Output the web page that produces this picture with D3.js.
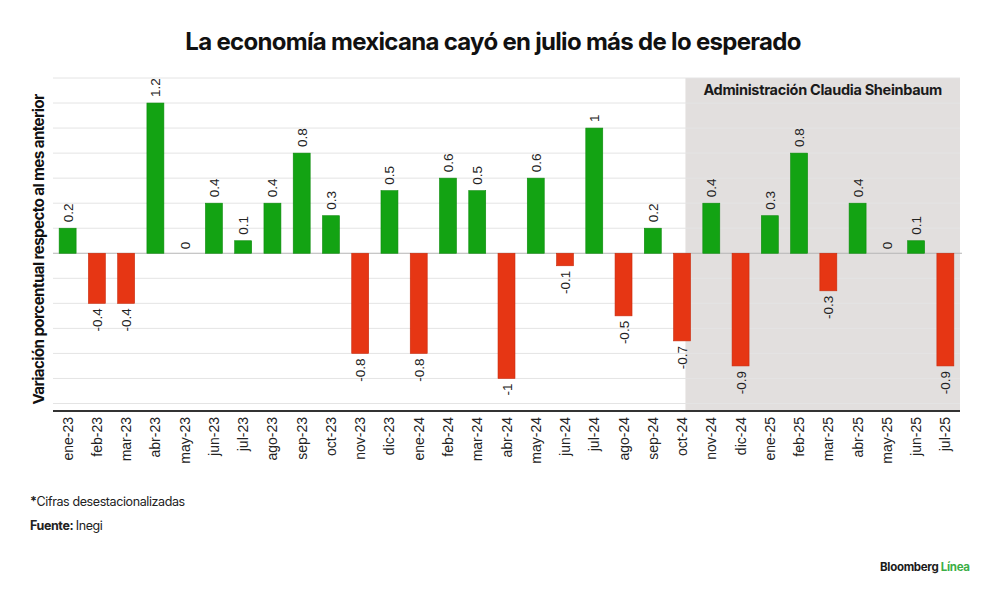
<!DOCTYPE html>
<html>
<head>
<meta charset="utf-8">
<script src="https://cdn.jsdelivr.net/npm/d3@7"></script>
<style>
  body { margin: 0; background: #fff; }
  svg { display: block; }
</style>
</head>
<body>
<svg id="chart" width="1000" height="595"></svg>
<script>
// monthly change, % vs previous month (seasonally adjusted)
const months = ["ene-23","feb-23","mar-23","abr-23","may-23","jun-23","jul-23","ago-23","sep-23","oct-23","nov-23","dic-23",
  "ene-24","feb-24","mar-24","abr-24","may-24","jun-24","jul-24","ago-24","sep-24","oct-24","nov-24","dic-24",
  "ene-25","feb-25","mar-25","abr-25","may-25","jun-25","jul-25"]
const values = [0.2,-0.4,-0.4,1.2,0,0.4,0.1,0.4,0.8,0.3,-0.8,0.5,
  -0.8,0.6,0.5,-1,0.6,-0.1,1,-0.5,0.2,-0.7,0.4,-0.9,
  0.3,0.8,-0.3,0.4,0,0.1,-0.9]
const gridValues = [1.4,1.2,1.0,0.8,0.6,0.4,0.2,-0.2,-0.4,-0.6,-0.8,-1.0,-1.2]
const adminStart = "oct-24"

const data = months.map((m, i) => ({month: m, value: values[i]}))

const svg = d3.select("#chart")
const W = 1000
const mLeft = 53, mRight = 960, mTop = 78, mBottom = 411

const green = "#13a313", red = "#e63614"
const labelFont = "'Liberation Sans', Arial, sans-serif"
const headFont = "Inter, 'Noto Sans', sans-serif"

const x = d3.scaleBand()
	.domain(months)
	.range([mLeft, mRight])
	.paddingInner(0.42)
	.paddingOuter(0.21)

const y = d3.scaleLinear()
	.domain([-1.26, 1.4])
	.range([mBottom, mTop])

// shade for Sheinbaum administration
let shadeX = x(adminStart) + x.bandwidth()*0.7
svg.append("rect")
	.attr("x", shadeX)
	.attr("y", y(1.4))
	.attr("width", mRight - shadeX)
	.attr("height", mBottom - y(1.4))
	.attr("fill", "#e2dfde")

// grid lines
svg.append("g")
	.selectAll("line")
	.data(gridValues)
	.join("line")
	  .attr("x1", mLeft)
	  .attr("x2", mRight)
	  .attr("y1", d => y(d))
	  .attr("y2", d => y(d))
	  .attr("stroke", "#e4e4e4")
	  .attr("stroke-width", 1)

// zero line
svg.append("line")
	.attr("x1", mLeft).attr("x2", mRight + 2)
	.attr("y1", y(0)).attr("y2", y(0))
	.attr("stroke", "#b5b5b5")
	.attr("stroke-width", 1)

svg.append("text")
	.attr("x", (shadeX + mRight)/2)
	.attr("y", 95)
	.attr("text-anchor", "middle")
	.attr("font-family", headFont)
	.attr("font-weight", 700)
	.attr("font-size", 14.5)
	.attr("letter-spacing", -0.3)
	.attr("fill", "#1a1a1a")
	.text("Administración Claudia Sheinbaum")

// bars
svg.append("g")
	.selectAll("rect")
	.data(data.filter(d => d.value !== 0))
	.join("rect")
	  .attr("x", d => x(d.month))
	  .attr("width", x.bandwidth())
	  .attr("y", d => y(Math.max(0, d.value)))
	  .attr("height", d => Math.abs(y(d.value) - y(0)))
	  .attr("fill", d => d.value > 0 ? green : red)
	  .attr("stroke", d => d.value > 0 ? "#0c8a0c" : "#c92a0c")
	  .attr("stroke-width", 0.6)

// value labels, rotated
svg.append("g")
	.selectAll("text")
	.data(data)
	.join("text")
	  .attr("transform", d => {
		let cx = x(d.month) + x.bandwidth()/2 + 5
		let cy = d.value < 0 ? y(d.value) + 5 : y(d.value) - (d.value === 0 ? 4 : 6)
		return `translate(${cx},${cy}) rotate(-90)`
	  })
	  .attr("text-anchor", d => d.value < 0 ? "end" : "start")
	  .attr("font-family", labelFont)
	  .attr("font-size", 13.5)
	  .attr("fill", "#222")
	  .text(d => d.value)

// x axis
const xAxis = svg.append("g")
	.attr("transform", `translate(0,${mBottom})`)
	.call(d3.axisBottom(x).tickSize(0).tickPadding(0))
xAxis.select(".domain")
	.attr("d", `M${mLeft},0H${mRight}`)
	.attr("stroke", "#333")
	.attr("stroke-width", 2)
xAxis.selectAll(".tick text")
	.attr("transform", "translate(5,6) rotate(-90)")
	.attr("text-anchor", "end")
	.attr("dy", 0)
	.attr("y", 0)
	.attr("font-family", labelFont)
	.attr("font-size", 14)
	.attr("fill", "#222")

// title
svg.append("text")
	.attr("x", W/2 - 7)
	.attr("y", 50)
	.attr("text-anchor", "middle")
	.attr("font-family", headFont)
	.attr("font-weight", 700)
	.attr("font-size", 24)
	.attr("letter-spacing", -0.7)
	.attr("fill", "#111")
	.text("La economía mexicana cayó en julio más de lo esperado")

// y axis title
svg.append("text")
	.attr("transform", `translate(44,${(mTop + mBottom)/2 + 5}) rotate(-90)`)
	.attr("text-anchor", "middle")
	.attr("font-family", headFont)
	.attr("font-weight", 700)
	.attr("font-size", 15.2)
	.attr("letter-spacing", -0.6)
	.attr("fill", "#111")
	.text("Variación porcentual respecto al mes anterior")

// notes
svg.append("text")
	.attr("x", 30).attr("y", 506)
	.attr("font-family", headFont)
	.attr("font-size", 12.5)
	.attr("letter-spacing", -0.4)
	.attr("fill", "#222")
	.call(t => {
		t.append("tspan").attr("font-weight", 700).text("*")
		t.append("tspan").text("Cifras desestacionalizadas")
	})

svg.append("text")
	.attr("x", 30).attr("y", 530)
	.attr("font-family", headFont)
	.attr("font-size", 12.5)
	.attr("letter-spacing", -0.4)
	.attr("fill", "#222")
	.call(t => {
		t.append("tspan").attr("font-weight", 700).text("Fuente: ")
		t.append("tspan").text("Inegi")
	})

svg.append("text")
	.attr("x", 880).attr("y", 571)
	.attr("font-family", headFont)
	.attr("font-weight", 700)
	.attr("font-size", 11.5)
	.attr("letter-spacing", -0.3)
	.call(t => {
		t.append("tspan").attr("fill", "#1a1a1a").text("Bloomberg ")
		t.append("tspan").attr("fill", "#3cae46").text("Línea")
	})
</script>
</body>
</html>
